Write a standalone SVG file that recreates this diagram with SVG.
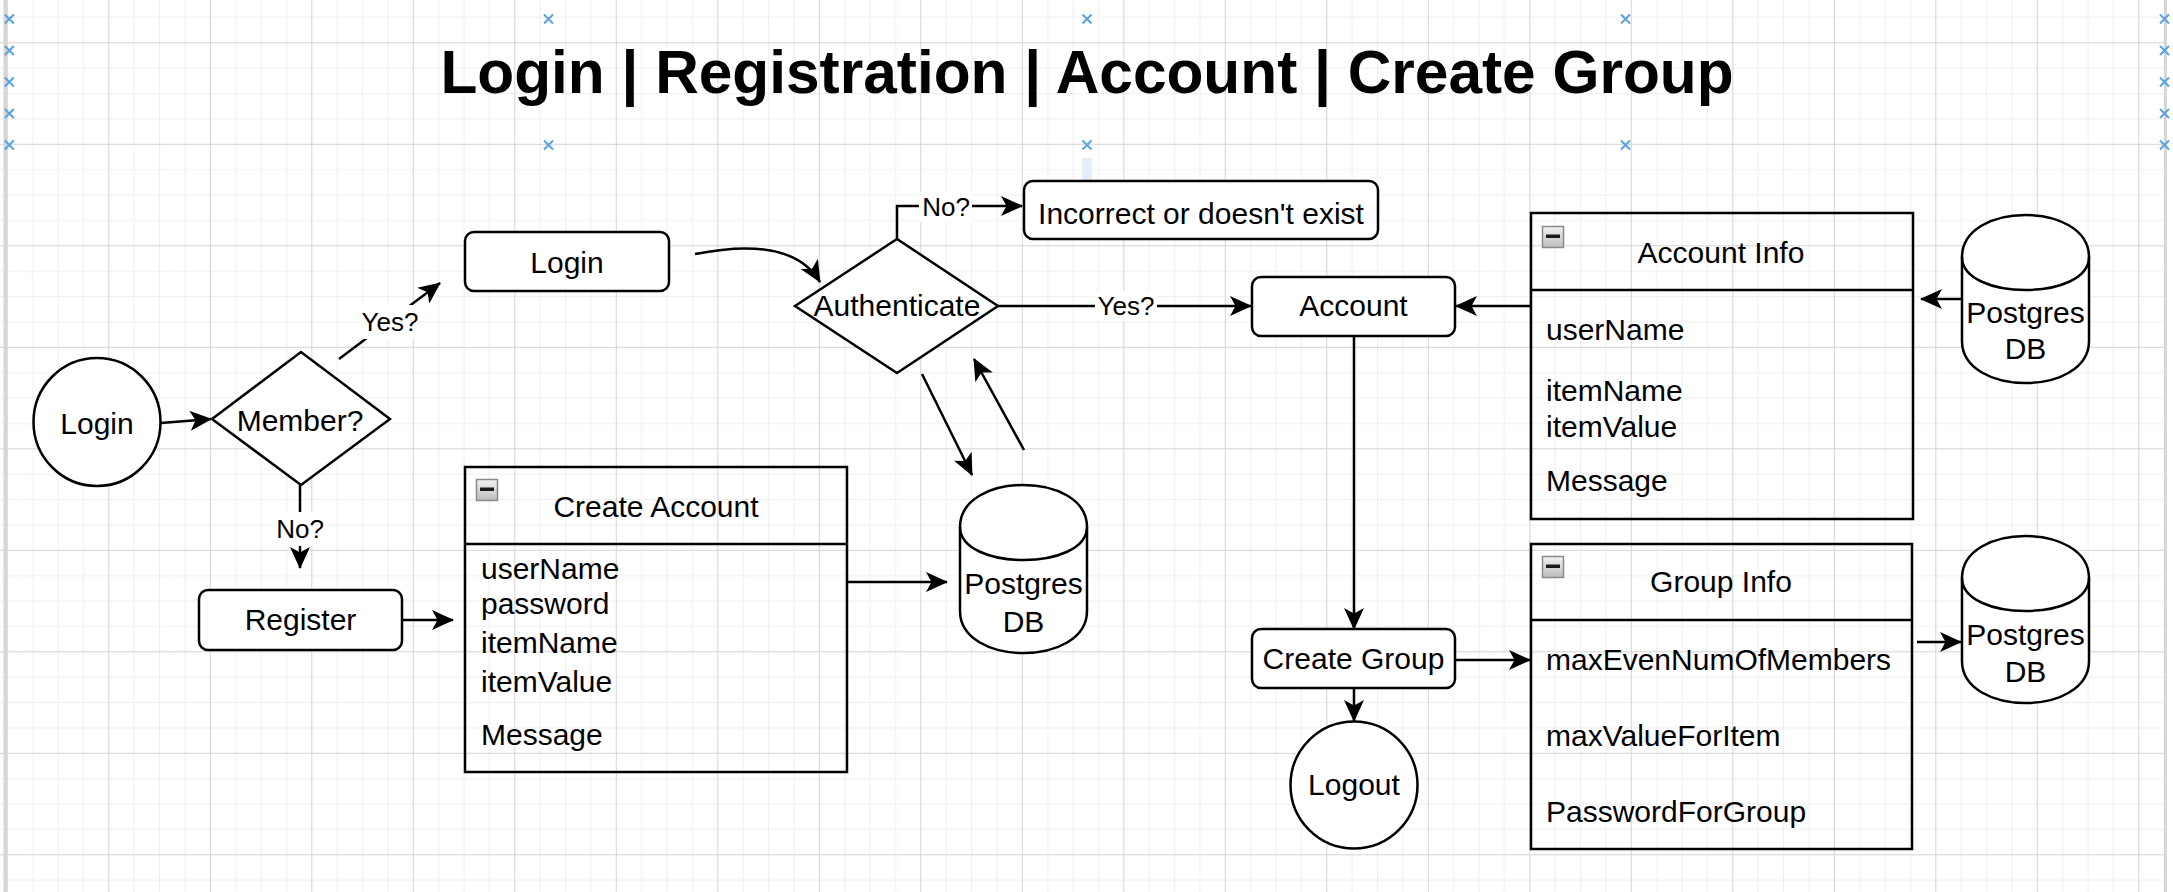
<svg xmlns="http://www.w3.org/2000/svg" width="2173" height="892" viewBox="0 0 2173 892">
<defs>
<pattern id="grid" patternUnits="userSpaceOnUse" x="6.8" y="42.3" width="101.5" height="101.5">
<rect x="0" y="0" width="101.5" height="101.5" fill="#ffffff"/>
<g fill="#efefef">
<rect x="25.375" y="0" width="1" height="101.5"/>
<rect x="50.75" y="0" width="1" height="101.5"/>
<rect x="76.125" y="0" width="1" height="101.5"/>
<rect x="0" y="25.375" width="101.5" height="1"/>
<rect x="0" y="50.75" width="101.5" height="1"/>
<rect x="0" y="76.125" width="101.5" height="1"/>
</g>
<g fill="#d4d4d4">
<rect x="0" y="0" width="1" height="101.5"/>
<rect x="0" y="0" width="101.5" height="1"/>
</g>
</pattern>
<linearGradient id="btn" x1="0" y1="0" x2="0" y2="1">
<stop offset="0" stop-color="#f2f2f2"/>
<stop offset="1" stop-color="#bdbdbd"/>
</linearGradient>
<marker id="ah" viewBox="0 0 22 20" refX="21" refY="10" markerWidth="22" markerHeight="20" orient="auto" markerUnits="userSpaceOnUse">
<path d="M0,0 L22,10 L0,20 L5.5,10 Z" fill="#000"/>
</marker>
<g id="xm"><path d="M-4.5,-4.5 L4.5,4.5 M-4.5,4.5 L4.5,-4.5" stroke="#5aa2e0" stroke-width="2" fill="none"/></g>
<g id="minus">
<rect x="0.5" y="0.5" width="21" height="21" fill="url(#btn)" stroke="#8a8a8a" stroke-width="1.5"/>
<rect x="4" y="8.5" width="14" height="3.5" fill="#1a1a1a"/>
</g>
</defs>
<style>
.t{font-family:"Liberation Sans",Arial,Helvetica,sans-serif;font-size:30px;fill:#000}
.c{text-anchor:middle}
.lb{font-size:26px}
.title{font-size:60.4px;font-weight:bold}
.sh{fill:#ffffff;stroke:#000;stroke-width:2.5}
.tb{fill:none;stroke:#000;stroke-width:2.5}
.ln{fill:none;stroke:#000;stroke-width:2.5}
.bg{fill:#ffffff}
</style>

<rect x="0" y="0" width="2173" height="892" fill="url(#grid)"/>
<rect x="3.5" y="0" width="3.5" height="892" fill="#d6d6d6"/>
<rect x="2164" y="0" width="3" height="892" fill="#d6d6d6"/>
<rect x="2167" y="0" width="6" height="892" fill="#ffffff"/>

<g id="title">
<text class="t c title" x="1087" y="93">Login | Registration | Account | Create Group</text>
<use href="#xm" x="9.3" y="19"/><use href="#xm" x="548.5" y="19"/><use href="#xm" x="1087" y="19"/><use href="#xm" x="1625.5" y="19"/><use href="#xm" x="2164.5" y="19"/>
<use href="#xm" x="9.3" y="145"/><use href="#xm" x="548.5" y="145"/><use href="#xm" x="1087" y="145"/><use href="#xm" x="1625.5" y="145"/><use href="#xm" x="2164.5" y="145"/>
<use href="#xm" x="9.3" y="50.5"/><use href="#xm" x="9.3" y="82"/><use href="#xm" x="9.3" y="113.5"/>
<use href="#xm" x="2164.5" y="50.5"/><use href="#xm" x="2164.5" y="82"/><use href="#xm" x="2164.5" y="113.5"/>
<path d="M1082,158 L1092,158 L1092,182 L1097,182 L1087,197 L1077,182 L1082,182 Z" fill="#dcecfb" opacity="0.8"/>
</g>

<g id="connectors">
<path class="ln" d="M161,423 L211,419" marker-end="url(#ah)"/>
<path class="ln" d="M339,359 L440,283" marker-end="url(#ah)"/>
<path class="ln" d="M300,485 L300,568" marker-end="url(#ah)"/>
<path class="ln" d="M402,620 L453,620" marker-end="url(#ah)"/>
<path class="ln" d="M695,254 C735,246 795,240 820,282" marker-end="url(#ah)"/>
<path class="ln" d="M897,239 L897,206 L1022,206" marker-end="url(#ah)"/>
<path class="ln" d="M998,306 L1251,306" marker-end="url(#ah)"/>
<path class="ln" d="M922,374 L972,475" marker-end="url(#ah)"/>
<path class="ln" d="M1024,450 L974,359" marker-end="url(#ah)"/>
<path class="ln" d="M847,582 L947,582" marker-end="url(#ah)"/>
<path class="ln" d="M1531,306 L1456,306" marker-end="url(#ah)"/>
<path class="ln" d="M1962,299 L1921,299" marker-end="url(#ah)"/>
<path class="ln" d="M1354,336 L1354,629" marker-end="url(#ah)"/>
<path class="ln" d="M1455,660 L1530,660" marker-end="url(#ah)"/>
<path class="ln" d="M1354,688 L1354,721" marker-end="url(#ah)"/>
<path class="ln" d="M1917,642 L1961,642" marker-end="url(#ah)"/>
<rect class="bg" x="360" y="305" width="60" height="34"/>
<text class="t c lb" x="390" y="331">Yes?</text>
<rect class="bg" x="274" y="512" width="52" height="34"/>
<text class="t c lb" x="300" y="538">No?</text>
<rect class="bg" x="919" y="192" width="53" height="30"/>
<text class="t c lb" x="946" y="216">No?</text>
<rect class="bg" x="1095" y="291" width="62" height="30"/>
<text class="t c lb" x="1126" y="315">Yes?</text>
</g>

<g id="login-start">
<ellipse class="sh" cx="97" cy="422" rx="63.5" ry="64"/>
<text class="t c" x="97" y="434">Login</text>
</g>
<g id="member">
<path class="sh" d="M212,419 L301,352 L390,419 L301,485 Z"/>
<text class="t c" x="300" y="431">Member?</text>
</g>
<g id="login">
<rect class="sh" x="465" y="232" width="204" height="59" rx="9"/>
<text class="t c" x="567" y="273">Login</text>
</g>
<g id="register">
<rect class="sh" x="199" y="590" width="203" height="60" rx="9"/>
<text class="t c" x="300.5" y="630">Register</text>
</g>
<g id="create-account">
<rect class="tb" x="465" y="467" width="382" height="305"/>
<line class="tb" x1="465" y1="544" x2="847" y2="544"/>
<use href="#minus" x="476" y="479"/>
<text class="t c" x="656" y="517">Create Account</text>
<text class="t" x="481" y="579">userName</text>
<text class="t" x="481" y="614">password</text>
<text class="t" x="481" y="653">itemName</text>
<text class="t" x="481" y="692">itemValue</text>
<text class="t" x="481" y="745">Message</text>
</g>
<g id="authenticate">
<path class="sh" d="M795,306 L897,239 L998,306 L897,373 Z"/>
<text class="t c" x="897" y="316">Authenticate</text>
</g>
<g id="incorrect">
<rect class="sh" x="1024" y="181" width="354" height="58" rx="9"/>
<text class="t c" x="1201" y="224">Incorrect or doesn't exist</text>
</g>
<g id="db-main">
<path class="sh" d="M960,527 C960,471 1087,471 1087,527 L1087,611 C1087,667 960,667 960,611 Z"/>
<path class="tb" d="M960,527 C960,571 1087,571 1087,527"/>
<text class="t c" x="1023.5" y="594">Postgres</text>
<text class="t c" x="1023.5" y="632">DB</text>
</g>
<g id="account">
<rect class="sh" x="1252" y="277" width="203" height="59" rx="9"/>
<text class="t c" x="1353.5" y="316">Account</text>
</g>
<g id="create-group">
<rect class="sh" x="1252" y="629" width="203" height="59" rx="9"/>
<text class="t c" x="1353.5" y="669">Create Group</text>
</g>
<g id="logout">
<ellipse class="sh" cx="1354" cy="785" rx="63.5" ry="63.5"/>
<text class="t c" x="1354" y="795">Logout</text>
</g>
<g id="account-info">
<rect class="tb" x="1531" y="213" width="382" height="306"/>
<line class="tb" x1="1531" y1="290" x2="1913" y2="290"/>
<use href="#minus" x="1542" y="226"/>
<text class="t c" x="1721" y="263">Account Info</text>
<text class="t" x="1546" y="340">userName</text>
<text class="t" x="1546" y="401">itemName</text>
<text class="t" x="1546" y="437">itemValue</text>
<text class="t" x="1546" y="491">Message</text>
</g>
<g id="db-account">
<path class="sh" d="M1962,257 C1962,201 2089,201 2089,257 L2089,341 C2089,397 1962,397 1962,341 Z"/>
<path class="tb" d="M1962,257 C1962,301 2089,301 2089,257"/>
<text class="t c" x="2025.5" y="323">Postgres</text>
<text class="t c" x="2025.5" y="359">DB</text>
</g>
<g id="group-info">
<rect class="tb" x="1531" y="544" width="381" height="305"/>
<line class="tb" x1="1531" y1="620" x2="1912" y2="620"/>
<use href="#minus" x="1542" y="556"/>
<text class="t c" x="1721" y="592">Group Info</text>
<text class="t" x="1546" y="670">maxEvenNumOfMembers</text>
<text class="t" x="1546" y="746">maxValueForItem</text>
<text class="t" x="1546" y="822">PasswordForGroup</text>
</g>
<g id="db-group">
<path class="sh" d="M1962,578 C1962,522 2089,522 2089,578 L2089,661 C2089,717 1962,717 1962,661 Z"/>
<path class="tb" d="M1962,578 C1962,622 2089,622 2089,578"/>
<text class="t c" x="2025.5" y="645">Postgres</text>
<text class="t c" x="2025.5" y="682">DB</text>
</g>
</svg>
